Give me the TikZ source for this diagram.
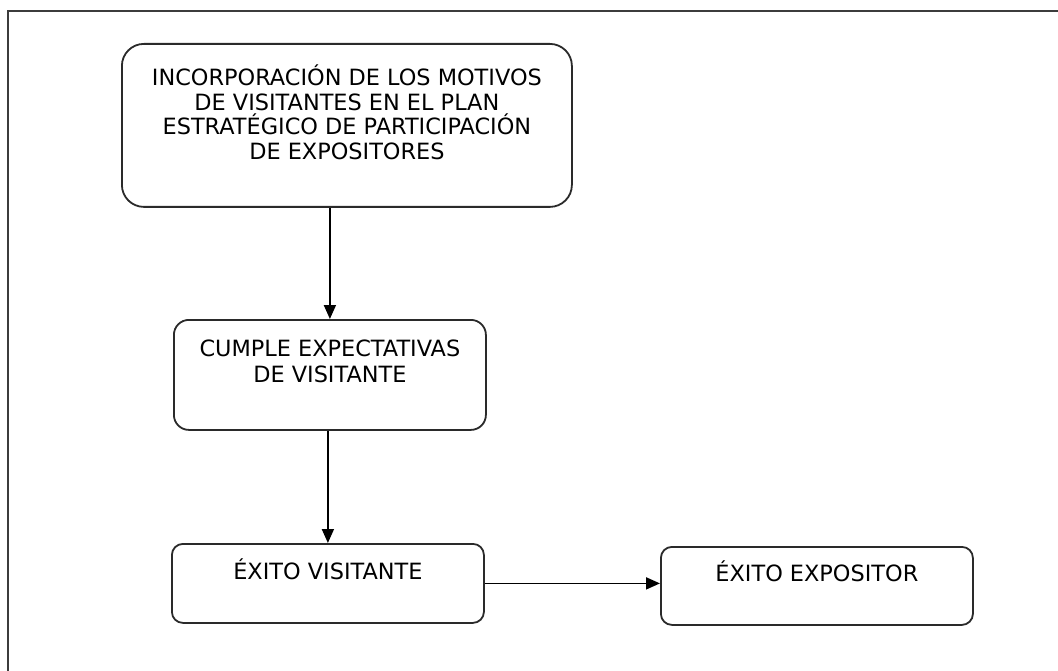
\documentclass[tikz,border=0pt]{standalone}
\usepackage{fontspec}
\setmainfont{DejaVu Sans}
\usetikzlibrary{arrows.meta}
\definecolor{frame}{HTML}{3C3C3C}
\definecolor{edge}{HTML}{2A2A2A}
\tikzset{
  box/.style={draw=edge, line width=1.8pt, inner sep=0pt, fill=white},
  arr/.style={draw=black, line width=1.8pt, -{Triangle[length=14pt,width=12pt]}},
}
\newcommand{\boxtext}[5]{\parbox[c][#2][t]{#1}{\centering\fontsize{22.4}{#4}\selectfont\rule{0pt}{#3}#5}}
\begin{document}
\begin{tikzpicture}[x=1pt,y=-1pt]
\useasboundingbox[fill=white] (0,0) rectangle (1058,671);
\draw[frame, line width=2.2pt] (8,671) -- (8,11) -- (1058,11);

\node[box, rounded corners=22pt, anchor=north west] (b1) at (121,43)
  {\boxtext{450pt}{163pt}{42pt}{24.4pt}{INCORPORACIÓN DE LOS MOTIVOS\\DE VISITANTES EN EL PLAN\\ESTRATÉGICO DE PARTICIPACIÓN\\DE EXPOSITORES}};
\node[box, rounded corners=15pt, anchor=north west] (b2) at (173,319)
  {\boxtext{312pt}{110pt}{37pt}{26pt}{CUMPLE EXPECTATIVAS\\DE VISITANTE}};
\node[box, rounded corners=11pt, anchor=north west] (b3) at (171,543)
  {\boxtext{312pt}{79pt}{36pt}{26pt}{ÉXITO VISITANTE}};
\node[box, rounded corners=11pt, anchor=north west] (b4) at (660,546)
  {\boxtext{312pt}{78pt}{35pt}{26pt}{ÉXITO EXPOSITOR}};

\draw[arr] (b2.north |- b1.south) -- (b2.north);
\draw[arr] (b3.north |- b2.south) -- (b3.north);
\draw[arr] (b3.east) -- (b3.east -| b4.west);
\end{tikzpicture}
\end{document}
